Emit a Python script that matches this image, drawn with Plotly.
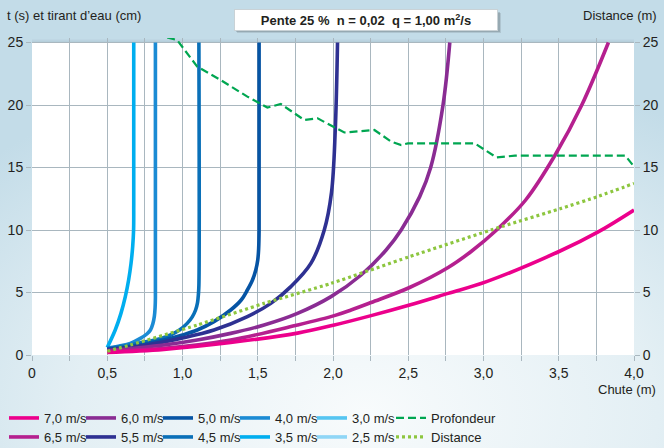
import base64
import plotly.graph_objects as go

# ---------------- data ----------------
x_70 = [0.5, 0.876, 1.32, 1.764, 2.009, 2.253, 2.509, 2.765, 3.02, 3.509, 3.765, 4.0]
y_70 = [0.2, 0.45, 1.0, 1.75, 2.4, 3.15, 4.0, 4.93, 5.87, 8.32, 9.87, 11.6]

x_65 = [0.5, 0.876, 1.32, 1.764, 2.009, 2.12, 2.253, 2.509, 2.765, 2.92, 3.087, 3.28, 3.476, 3.653, 3.83]
y_65 = [0.3, 0.53, 1.2, 2.4, 3.15, 3.6, 4.2, 5.4, 7.0, 8.3, 10.0, 12.4, 16.0, 20.0, 25.0]

x_60 = [0.5, 0.876, 1.098, 1.32, 1.542, 1.764, 1.987, 2.187, 2.353, 2.453, 2.576, 2.649, 2.731, 2.776]
y_60 = [0.35, 0.8, 1.2, 1.73, 2.4, 3.33, 4.67, 6.4, 8.4, 10.0, 12.67, 15.0, 20.0, 25.0]

x_55 = [0.5, 0.764, 0.987, 1.209, 1.431, 1.587, 1.72, 1.853, 1.942, 1.99, 2.015, 2.03]
y_55 = [0.4, 0.8, 1.33, 2.0, 3.07, 4.13, 5.47, 7.33, 10.0, 13.0, 18.0, 25.0]

x_50 = [0.5, 0.653, 0.876, 1.0, 1.098, 1.209, 1.32, 1.39, 1.431, 1.465, 1.487, 1.5, 1.506, 1.509, 1.509]
y_50 = [0.45, 0.67, 1.2, 1.6, 2.0, 2.67, 3.6, 4.4, 5.2, 6.0, 6.8, 7.6, 8.5, 10.0, 25.0]

x_45 = [0.5, 0.65, 0.764, 0.85, 0.92, 0.98, 1.031, 1.065, 1.087, 1.1, 1.106, 1.109, 1.109]
y_45 = [0.5, 0.8, 1.07, 1.3, 1.6, 2.0, 2.53, 3.05, 3.6, 4.2, 4.9, 5.6, 25.0]

x_40 = [0.5, 0.58, 0.653, 0.72, 0.765, 0.787, 0.803, 0.813, 0.818, 0.82, 0.82]
y_40 = [0.55, 0.72, 0.93, 1.33, 1.7, 2.0, 2.5, 3.1, 3.8, 4.6, 25.0]

x_35 = [0.5, 0.553, 0.591, 0.62, 0.642, 0.658, 0.669, 0.675, 0.676, 0.676]
y_35 = [0.6, 2.0, 3.33, 4.67, 6.0, 7.33, 8.67, 10.0, 12.0, 25.0]

x_30 = [0.5]
y_30 = [0.6]
x_25 = [0.5]
y_25 = [0.6]

x_prof = [0.898, 0.964, 1.098, 1.253, 1.431, 1.564, 1.653, 1.809, 1.898, 2.075, 2.275,
          2.387, 2.453, 2.498, 2.942, 3.087, 3.209, 3.942, 4.0]
y_prof = [25.4, 25.2, 23.07, 22.0, 20.67, 19.8, 20.08, 18.8, 18.93, 17.8, 18.0,
          17.07, 16.8, 16.93, 16.93, 15.8, 15.95, 15.95, 15.07]

x_dist = [0.5, 0.653, 1.098, 1.542, 1.987, 2.509, 3.12, 3.509, 3.765, 4.0]
y_dist = [0.3, 0.8, 2.4, 4.13, 5.73, 7.87, 10.27, 11.7, 12.7, 13.73]

x_tick_vals = [0, 0.25, 0.5, 0.75, 1.0, 1.25, 1.5, 1.75, 2.0, 2.25, 2.5, 2.75, 3.0, 3.25, 3.5, 3.75, 4.0]
x_tick_text = ["0", "", "0,5", "", "1,0", "", "1,5", "", "2,0", "", "2,5", "", "3,0", "", "3,5", "", "4,0"]
y_tick_vals = [0, 5, 10, 15, 20, 25]

# ---------------- styles ----------------
FONT = "Liberation Sans, Arial, sans-serif"
TXT = "#231f20"
GRID = "#a9b7bf"

L, R, T, B = 32, 30, 38, 93
W, H = 664, 448
pw, ph = W - L - R, H - T - B


def px_x(p):
    return (p - L) / pw


def px_y(p):
    return 1 - (p - T) / ph


ROW1, ROW2 = 418, 437
COLS = [4 + 77 * i for i in range(5)] + [391]

series = [
    # name, x, y, color, (column, row)
    ("2,5 m/s", x_25, y_25, "#8fd6f6", (4, ROW2)),
    ("3,0 m/s", x_30, y_30, "#55c5f1", (4, ROW1)),
    ("3,5 m/s", x_35, y_35, "#00aeef", (3, ROW2)),
    ("4,0 m/s", x_40, y_40, "#1b8bd4", (3, ROW1)),
    ("4,5 m/s", x_45, y_45, "#0a70b8", (2, ROW2)),
    ("5,0 m/s", x_50, y_50, "#0654a4", (2, ROW1)),
    ("5,5 m/s", x_55, y_55, "#2e3192", (1, ROW2)),
    ("6,0 m/s", x_60, y_60, "#8a2c93", (1, ROW1)),
    ("6,5 m/s", x_65, y_65, "#b5208f", (0, ROW2)),
    ("7,0 m/s", x_70, y_70, "#ec008c", (0, ROW1)),
]

legend_style = dict(
    orientation="h", xanchor="left", yanchor="middle",
    bgcolor="rgba(0,0,0,0)", font=dict(family=FONT, size=13, color=TXT),
    itemwidth=30,
)
legends = {}

fig = go.Figure()
for i, (name, xs, ys, col, (c, r)) in enumerate(series):
    lname = "legend" if i == 0 else f"legend{i + 1}"
    legends[lname] = dict(**legend_style, x=px_x(COLS[c]), y=px_y(r))
    fig.add_trace(go.Scatter(
        x=xs, y=ys, name=name, mode="lines",
        line=dict(color=col, width=3.6, shape="spline", smoothing=1.0),
        legend=lname,
    ))

legends["legend11"] = dict(**legend_style, x=px_x(COLS[5]), y=px_y(ROW2))
fig.add_trace(go.Scatter(
    x=x_dist, y=y_dist, name="Distance", mode="lines", yaxis="y2",
    line=dict(color="#8dc63f", width=3.2, dash="3px,3px", shape="spline", smoothing=0.6),
    legend="legend11",
))
legends["legend12"] = dict(**legend_style, x=px_x(COLS[5]), y=px_y(ROW1))
fig.add_trace(go.Scatter(
    x=x_prof, y=y_prof, name="Profondeur", mode="lines",
    line=dict(color="#00a651", width=2.2, dash="8px,4px"),
    legend="legend12",
))

# background gradient (decoration only)
svg = ("<svg xmlns='http://www.w3.org/2000/svg' width='664' height='448'>"
       "<defs><radialGradient id='g' cx='0.55' cy='0.92' r='0.8'>"
       "<stop offset='0' stop-color='#f8fbfc'/>"
       "<stop offset='0.55' stop-color='#e3eff4'/>"
       "<stop offset='1' stop-color='#c3dce8'/>"
       "</radialGradient></defs>"
       "<rect width='664' height='448' fill='url(#g)'/></svg>")
src = "data:image/svg+xml;base64," + base64.b64encode(svg.encode()).decode()

fig.add_layout_image(dict(
    source=src, xref="paper", yref="paper",
    x=px_x(0), y=px_y(0), sizex=W / pw, sizey=H / ph,
    xanchor="left", yanchor="top", sizing="stretch", layer="below",
))

shapes = []
for k, op in [(6, 0.05), (4, 0.06), (2, 0.08)]:
    shapes.append(dict(type="rect", xref="x", yref="y",
                       x0=0 - k / 150.5 + 3 / 150.5, x1=4 + k / 150.5 + 2 / 150.5,
                       y0=0 - k / 12.5 - 3 / 12.5, y1=25 + k / 12.5 - 3 / 12.5,
                       fillcolor=f"rgba(40,60,75,{op})", line=dict(width=0), layer="below"))
shapes.append(dict(type="rect", xref="x", yref="y", x0=0, x1=4, y0=0, y1=25,
                   fillcolor="white", line=dict(width=0), layer="below"))
# soft shadow under the title box
for d, op in [(3, 0.10), (2, 0.14)]:
    shapes.append(dict(type="rect", xref="paper", yref="paper",
                       x0=px_x(234 + d), x1=px_x(498 + d), y0=px_y(30 + d), y1=px_y(10 + d),
                       fillcolor=f"rgba(0,0,0,{op})", line=dict(width=0), layer="above"))
fig.update_layout(shapes=shapes)

fig.update_layout(
    width=W, height=H,
    margin=dict(l=L, r=R, t=T, b=B, autoexpand=False),
    paper_bgcolor="#d9e9f0",
    plot_bgcolor="rgba(0,0,0,0)",
    font=dict(family=FONT, size=14, color=TXT),
    showlegend=True,
    xaxis=dict(
        range=[0, 4], tickvals=x_tick_vals, ticktext=x_tick_text, automargin=False,
        showgrid=True, gridcolor=GRID, gridwidth=1, zeroline=False, showline=False,
        ticks="outside", ticklen=5, tickcolor=GRID,
        tickfont=dict(family=FONT, size=14, color=TXT),
    ),
    yaxis=dict(
        range=[0, 25.36], tickvals=y_tick_vals, automargin=False,
        showgrid=True, gridcolor=GRID, gridwidth=1, zeroline=False, showline=False,
        ticks="outside", ticklen=5, tickcolor=GRID,
        tickfont=dict(family=FONT, size=14, color=TXT),
    ),
    yaxis2=dict(
        range=[0, 25.36], tickvals=y_tick_vals, overlaying="y", side="right", automargin=False,
        showgrid=False, zeroline=False, showline=False,
        ticks="outside", ticklen=5, tickcolor=GRID,
        tickfont=dict(family=FONT, size=14, color=TXT),
    ),
    **legends,
)

fig.add_annotation(
    text="<b>Pente 25 %  n = 0,02  q = 1,00 m<sup>2</sup>/s</b>",
    xref="paper", yref="paper", x=px_x(366), y=px_y(20),
    xanchor="center", yanchor="middle", showarrow=False,
    font=dict(family=FONT, size=13, color=TXT),
    bgcolor="white", bordercolor="#c9d2d6", borderwidth=1, borderpad=2, width=258,
)
fig.add_annotation(
    text="t (s) et tirant d’eau (cm)", xref="paper", yref="paper",
    x=px_x(5), y=px_y(16), xanchor="left", yanchor="middle",
    showarrow=False, font=dict(family=FONT, size=13, color=TXT),
)
fig.add_annotation(
    text="Distance (m)", xref="paper", yref="paper",
    x=px_x(659), y=px_y(16), xanchor="right", yanchor="middle",
    showarrow=False, font=dict(family=FONT, size=13, color=TXT),
)
fig.add_annotation(
    text="Chute (m)", xref="paper", yref="paper",
    x=px_x(658), y=px_y(389), xanchor="right", yanchor="middle",
    showarrow=False, font=dict(family=FONT, size=13, color=TXT),
)

fig.write_html("out.html", config={"displayModeBar": False},
               post_script="document.body.style.margin='0';")
